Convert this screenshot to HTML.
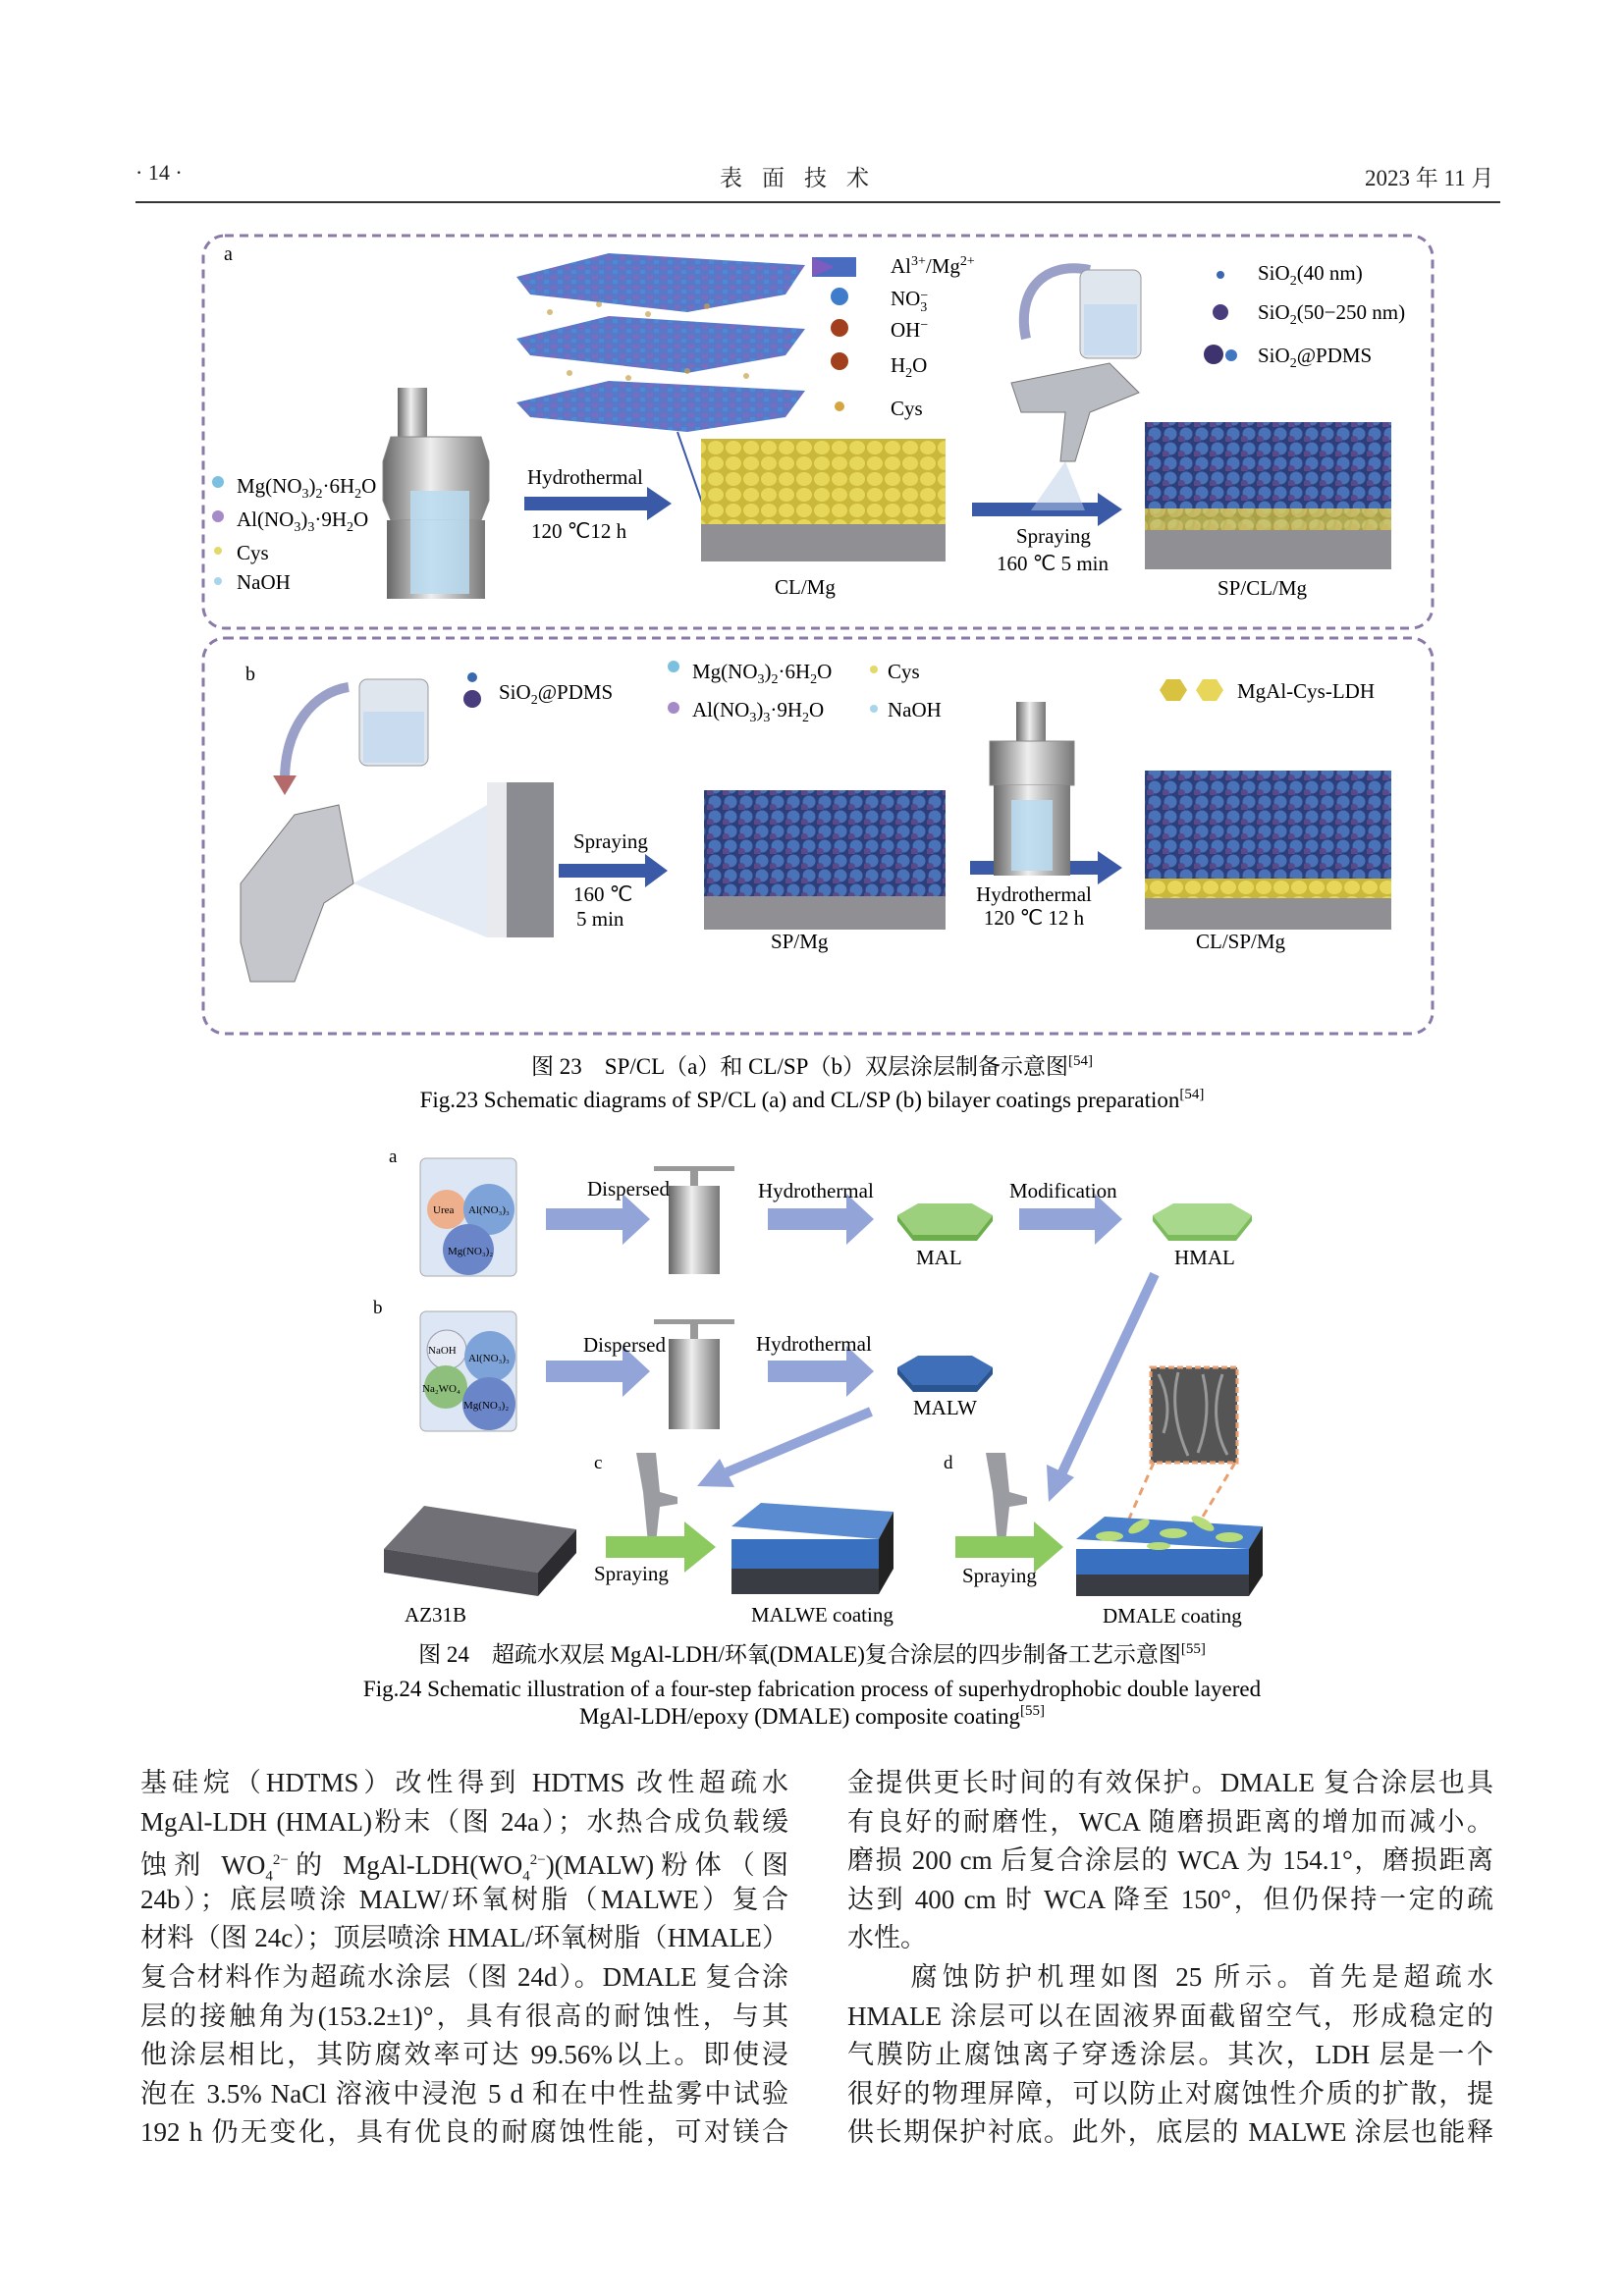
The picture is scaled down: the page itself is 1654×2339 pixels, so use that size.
<!DOCTYPE html>
<html><head><meta charset="utf-8">
<style>
body{margin:0;background:#fff;}
#pg{position:relative;width:1654px;height:2339px;overflow:hidden;background:#fff;font-family:"Liberation Serif","Noto Serif CJK SC",serif;color:#222;}
.t{position:absolute;white-space:nowrap;}
.col{position:absolute;font-size:27px;line-height:39.6px;font-family:"Liberation Serif","Noto Serif CJK SC",serif;color:#1a1a1a;}
.col div{text-align:justify;text-align-last:justify;height:39.6px;white-space:nowrap;}
svg{position:absolute;left:0;top:0;}
</style></head><body><div id="pg">
<div class="t" style="left:138px;top:163px;font-size:22px;">· 14 ·</div>
<div class="t" style="left:733px;top:163px;font-size:23px;letter-spacing:20px;">表面技术</div>
<div class="t" style="left:1390px;top:163px;font-size:23px;">2023 年 11 月</div>
<div style="position:absolute;left:138px;top:205px;width:1390px;height:2px;background:#333"></div>

<svg width="1654" height="2339" viewBox="0 0 1654 2339" font-family="Liberation Serif, serif">
<defs>
<pattern id="yel" width="18" height="16" patternUnits="userSpaceOnUse"><rect width="18" height="16" fill="#c9b83a"/><ellipse cx="9" cy="8" rx="8" ry="7" fill="#e6d65a"/></pattern>
<pattern id="blu" width="16" height="15" patternUnits="userSpaceOnUse"><rect width="16" height="15" fill="#2c3f7a"/><circle cx="8" cy="7" r="6.5" fill="#4a72b8"/><circle cx="3" cy="13" r="4" fill="#5a4a8a"/></pattern>
<pattern id="ldh" width="14" height="10" patternUnits="userSpaceOnUse"><rect width="14" height="10" fill="#5a78c8"/><rect x="1" y="1" width="6" height="4" fill="#7d6bbf"/><rect x="8" y="5" width="5" height="4" fill="#4c8ad6"/></pattern>
<linearGradient id="steel" x1="0" x2="1"><stop offset="0" stop-color="#666"/><stop offset=".45" stop-color="#eee"/><stop offset="1" stop-color="#777"/></linearGradient>
</defs>
<rect x="207" y="240" width="1252" height="400" rx="22" fill="none" stroke="#8a7aaa" stroke-width="3" stroke-dasharray="9 6"/>
<rect x="207" y="650" width="1252" height="403" rx="22" fill="none" stroke="#8a7aaa" stroke-width="3" stroke-dasharray="9 6"/>
<text x="228" y="265" font-size="20">a</text>
<text x="250" y="693" font-size="20">b</text>
<g font-size="21">
<circle cx="222" cy="491" r="6" fill="#7cc0e0"/><text x="241" y="502">Mg(NO<tspan font-size="14" dy="5">3</tspan><tspan dy="-5">)</tspan><tspan font-size="14" dy="5">2</tspan><tspan dy="-5">·6H</tspan><tspan font-size="14" dy="5">2</tspan><tspan dy="-5">O</tspan></text>
<circle cx="222" cy="526" r="6" fill="#a58ac8"/><text x="241" y="536">Al(NO<tspan font-size="14" dy="5">3</tspan><tspan dy="-5">)</tspan><tspan font-size="14" dy="5">3</tspan><tspan dy="-5">·9H</tspan><tspan font-size="14" dy="5">2</tspan><tspan dy="-5">O</tspan></text>
<circle cx="222" cy="561" r="4" fill="#e3d96a"/><text x="241" y="570">Cys</text>
<circle cx="222" cy="592" r="4" fill="#a9d5ea"/><text x="241" y="600">NaOH</text>
</g>
<g><rect x="405" y="395" width="30" height="50" fill="url(#steel)"/><polygon points="398,445 490,445 498,470 498,510 490,530 398,530 390,510 390,470" fill="url(#steel)" stroke="#888"/><rect x="394" y="530" width="100" height="80" fill="url(#steel)"/><rect x="418" y="500" width="60" height="105" fill="#b9dcf0" opacity=".85"/></g>
<g fill="#3a5aa8"><rect x="534" y="506" width="125" height="14"/><polygon points="659,496 684,513 659,530"/>
<rect x="990" y="512" width="128" height="14"/><polygon points="1118,502 1143,519 1118,536"/>
<rect x="569" y="880" width="88" height="14"/><polygon points="657,870 680,887 657,904"/>
<rect x="988" y="877" width="130" height="14"/><polygon points="1118,867 1143,884 1118,901"/></g>
<g font-size="21"><text x="537" y="493">Hydrothermal</text><text x="541" y="548">120 ℃12 h</text>
<text x="1035" y="553">Spraying</text><text x="1015" y="581">160 ℃ 5 min</text>
<text x="789" y="605">CL/Mg</text><text x="1240" y="606">SP/CL/Mg</text></g>
<g><polygon points="526,282 620,258 820,270 800,300 700,318 540,300" fill="url(#ldh)"/>
<polygon points="526,345 620,322 820,335 800,362 700,380 540,362" fill="url(#ldh)"/>
<polygon points="526,410 620,388 820,398 800,425 700,440 540,425" fill="url(#ldh)"/>
<g fill="#c9a24a" opacity=".7"><circle cx="560" cy="318" r="3"/><circle cx="610" cy="310" r="3"/><circle cx="660" cy="320" r="3"/><circle cx="720" cy="312" r="3"/><circle cx="580" cy="380" r="3"/><circle cx="640" cy="385" r="3"/><circle cx="700" cy="378" r="3"/><circle cx="760" cy="383" r="3"/></g>
<line x1="722" y1="532" x2="690" y2="440" stroke="#3a5aa8" stroke-width="2"/></g>
<g font-size="21"><rect x="827" y="262" width="45" height="20" fill="#4a6cc0"/><polygon points="827,262 850,272 827,282" fill="#7d5bbf"/><text x="907" y="278">Al<tspan font-size="14" dy="-8">3+</tspan><tspan dy="8">/Mg</tspan><tspan font-size="14" dy="-8">2+</tspan></text>
<circle cx="855" cy="302" r="9" fill="#3f7ccc"/><text x="907" y="311">NO<tspan font-size="14" dy="-6">−</tspan><tspan font-size="14" dx="-8" dy="12">3</tspan></text>
<circle cx="855" cy="334" r="9" fill="#a2401e"/><text x="907" y="343">OH<tspan font-size="14" dy="-8">−</tspan></text>
<circle cx="855" cy="368" r="9" fill="#a2401e"/><text x="907" y="379">H<tspan font-size="14" dy="5">2</tspan><tspan dy="-5">O</tspan></text>
<circle cx="855" cy="414" r="5" fill="#d4a540"/><text x="907" y="423">Cys</text></g>
<rect x="714" y="447" width="249" height="87" fill="url(#yel)"/><rect x="714" y="534" width="249" height="38" fill="#8f8f94"/>
<path d="M1110,275 C1060,265 1035,300 1045,345" stroke="#9aa0c8" stroke-width="10" fill="none"/>
<rect x="1100" y="275" width="62" height="90" rx="8" fill="#dfe6ee" stroke="#999"/><rect x="1104" y="310" width="54" height="52" fill="#c9dcef"/>
<polygon points="1030,390 1130,370 1160,400 1110,420 1095,470 1080,470 1085,420 1040,420" fill="#b9bcc2" stroke="#777"/>
<polygon points="1085,470 1050,520 1105,520" fill="#b9cde8" opacity=".5"/>
<g font-size="21"><circle cx="1243" cy="280" r="4" fill="#3a68b0"/><text x="1281" y="285">SiO<tspan font-size="14" dy="5">2</tspan><tspan dy="-5">(40 nm)</tspan></text>
<circle cx="1243" cy="318" r="8" fill="#4a3d7d"/><text x="1281" y="325">SiO<tspan font-size="14" dy="5">2</tspan><tspan dy="-5">(50−250 nm)</tspan></text>
<circle cx="1236" cy="361" r="10" fill="#3e336e"/><circle cx="1254" cy="362" r="6" fill="#4177c0"/><text x="1281" y="369">SiO<tspan font-size="14" dy="5">2</tspan><tspan dy="-5">@PDMS</tspan></text></g>
<rect x="1166" y="430" width="251" height="110" fill="url(#blu)"/><rect x="1166" y="518" width="251" height="22" fill="url(#yel)" opacity=".8"/><rect x="1166" y="540" width="251" height="40" fill="#8f8f94"/>

<path d="M355,700 C320,705 290,740 290,795" stroke="#9aa0c8" stroke-width="10" fill="none"/><polygon points="278,790 302,790 290,810" fill="#b46a6a"/>
<rect x="366" y="692" width="70" height="88" rx="8" fill="#dfe6ee" stroke="#999"/><rect x="370" y="725" width="62" height="52" fill="#c9dcef"/>
<g font-size="21"><circle cx="481" cy="690" r="5" fill="#3a68b0"/><circle cx="481" cy="712" r="9" fill="#4a3d7d"/><text x="508" y="712">SiO<tspan font-size="14" dy="5">2</tspan><tspan dy="-5">@PDMS</tspan></text></g>
<polygon points="245,900 300,830 345,820 360,900 330,920 300,1000 255,1000 245,960" fill="#c4c6cb" stroke="#777"/>
<polygon points="360,900 496,820 496,955" fill="#c9d7ea" opacity=".5"/>
<rect x="496" y="797" width="68" height="158" fill="#8a8c92"/><rect x="496" y="797" width="20" height="158" fill="#e8eaee"/>
<g font-size="21"><text x="584" y="864">Spraying</text><text x="584" y="918">160 ℃</text><text x="587" y="943">5 min</text>
<text x="785" y="966">SP/Mg</text><text x="1218" y="966">CL/SP/Mg</text>
<text x="1053" y="918" text-anchor="middle">Hydrothermal</text><text x="1053" y="942" text-anchor="middle">120 ℃ 12 h</text></g>
<rect x="717" y="805" width="246" height="108" fill="url(#blu)"/><rect x="717" y="913" width="246" height="34" fill="#8f8f94"/>
<g font-size="21"><circle cx="686" cy="679" r="6" fill="#7cc0e0"/><text x="705" y="691">Mg(NO<tspan font-size="14" dy="5">3</tspan><tspan dy="-5">)</tspan><tspan font-size="14" dy="5">2</tspan><tspan dy="-5">·6H</tspan><tspan font-size="14" dy="5">2</tspan><tspan dy="-5">O</tspan></text>
<circle cx="686" cy="721" r="6" fill="#a58ac8"/><text x="705" y="730">Al(NO<tspan font-size="14" dy="5">3</tspan><tspan dy="-5">)</tspan><tspan font-size="14" dy="5">3</tspan><tspan dy="-5">·9H</tspan><tspan font-size="14" dy="5">2</tspan><tspan dy="-5">O</tspan></text>
<circle cx="890" cy="682" r="4" fill="#e3d96a"/><text x="904" y="691">Cys</text>
<circle cx="890" cy="722" r="4" fill="#a9d5ea"/><text x="904" y="730">NaOH</text>
<polygon points="1181,703 1188,692 1202,692 1209,703 1202,714 1188,714" fill="#d9c240"/><polygon points="1218,703 1225,692 1239,692 1246,703 1239,714 1225,714" fill="#e8d65a"/>
<text x="1260" y="711">MgAl-Cys-LDH</text></g>
<g><rect x="1035" y="715" width="30" height="40" fill="url(#steel)"/><rect x="1008" y="755" width="86" height="45" fill="url(#steel)" stroke="#888"/><rect x="1012" y="800" width="78" height="92" fill="url(#steel)"/><rect x="1030" y="815" width="42" height="72" fill="#b9dcf0" opacity=".85"/></g>
<rect x="1166" y="785" width="251" height="110" fill="url(#blu)"/><rect x="1166" y="895" width="251" height="20" fill="url(#yel)"/><rect x="1166" y="915" width="251" height="32" fill="#8f8f94"/>

<text x="827" y="1094" font-size="23" text-anchor="middle" font-family="Liberation Serif, Noto Serif CJK SC, serif">图 23　SP/CL（a）和 CL/SP（b）双层涂层制备示意图<tspan font-size="15" dy="-9">[54]</tspan></text>
<text x="827" y="1128" font-size="23" text-anchor="middle">Fig.23 Schematic diagrams of SP/CL (a) and CL/SP (b) bilayer coatings preparation<tspan font-size="15" dy="-9">[54]</tspan></text>

<g font-size="21">
<text x="396" y="1184" font-size="19">a</text><text x="380" y="1338" font-size="19">b</text>
<rect x="428" y="1180" width="98" height="120" rx="6" fill="#dce6f4" stroke="#aaa"/>
<circle cx="455" cy="1232" r="20" fill="#eeb08c"/><circle cx="498" cy="1232" r="26" fill="#7ea3d8"/><circle cx="477" cy="1273" r="26" fill="#6b86c8"/>
<text x="441" y="1236" font-size="11">Urea</text><text x="477" y="1236" font-size="11">Al(NO₃)₃</text><text x="456" y="1278" font-size="11">Mg(NO₃)₂</text>
<rect x="428" y="1336" width="98" height="122" rx="6" fill="#dce6f4" stroke="#aaa"/>
<circle cx="455" cy="1375" r="20" fill="#e6eaf4" stroke="#99a"/><circle cx="499" cy="1382" r="26" fill="#7ea3d8"/><circle cx="454" cy="1413" r="22" fill="#8fbf7c"/><circle cx="498" cy="1430" r="27" fill="#6b86c8"/>
<text x="436" y="1379" font-size="11">NaOH</text><text x="477" y="1387" font-size="11">Al(NO₃)₃</text><text x="430" y="1418" font-size="11">Na₂WO₄</text><text x="472" y="1435" font-size="11">Mg(NO₃)₂</text>
<g><rect x="666" y="1188" width="82" height="5" fill="#999"/><rect x="703" y="1188" width="8" height="22" fill="#999"/><rect x="681" y="1208" width="52" height="90" fill="url(#steel)"/></g>
<g><rect x="666" y="1344" width="82" height="5" fill="#999"/><rect x="703" y="1344" width="8" height="22" fill="#999"/><rect x="681" y="1364" width="52" height="92" fill="url(#steel)"/></g>
<g fill="#93a4d8"><rect x="556" y="1231" width="78" height="22"/><polygon points="634,1216 662,1242 634,1268"/>
<rect x="782" y="1231" width="80" height="22"/><polygon points="862,1216 890,1242 862,1268"/>
<rect x="1038" y="1231" width="77" height="22"/><polygon points="1115,1216 1143,1242 1115,1268"/>
<rect x="556" y="1386" width="78" height="22"/><polygon points="634,1371 662,1397 634,1423"/>
<rect x="782" y="1386" width="80" height="22"/><polygon points="862,1371 890,1397 862,1423"/></g>
<line x1="1176" y1="1298" x2="1082" y2="1500" stroke="#93a4d8" stroke-width="10"/><polygon points="1066,1492 1094,1505 1068,1530" fill="#93a4d8"/>
<line x1="887" y1="1438" x2="740" y2="1500" stroke="#93a4d8" stroke-width="10"/><polygon points="733,1486 748,1515 710,1514" fill="#93a4d8"/>
<text x="598" y="1218">Dispersed</text><text x="772" y="1220">Hydrothermal</text><text x="1028" y="1220">Modification</text>
<text x="594" y="1377">Dispersed</text><text x="770" y="1376">Hydrothermal</text>
<polygon points="914,1238 935,1226 990,1226 1011,1238 995,1258 930,1258" fill="#9cd07c"/><polygon points="930,1258 995,1258 1011,1238 1011,1244 995,1264 930,1264 914,1244 914,1238" fill="#6cae4c"/>
<polygon points="1174,1238 1195,1226 1254,1226 1275,1238 1259,1258 1190,1258" fill="#a8d88c"/><polygon points="1190,1258 1259,1258 1275,1238 1275,1244 1259,1264 1190,1264 1174,1244 1174,1238" fill="#7cbc5c"/>
<polygon points="914,1393 935,1381 990,1381 1011,1393 995,1411 930,1411" fill="#3f6fb8"/><polygon points="930,1411 995,1411 1011,1393 1011,1400 995,1418 930,1418 914,1400 914,1393" fill="#2a5590"/>
<text x="933" y="1288">MAL</text><text x="1196" y="1288">HMAL</text><text x="930" y="1441">MALW</text>
<text x="605" y="1496" font-size="19">c</text><text x="961" y="1496" font-size="19">d</text>
<rect x="1172" y="1393" width="88" height="97" fill="#555" stroke="#e8a070" stroke-width="3" stroke-dasharray="6 3"/>
<path d="M1180,1400 q15,30 5,60 M1200,1398 q-10,40 10,85 M1225,1400 q10,40 -5,80 M1245,1400 q-15,45 5,82" stroke="#999" stroke-width="3" fill="none"/>
<line x1="1175" y1="1490" x2="1140" y2="1570" stroke="#e8a070" stroke-width="3" stroke-dasharray="8 6"/><line x1="1258" y1="1490" x2="1210" y2="1570" stroke="#e8a070" stroke-width="3" stroke-dasharray="8 6"/>
<g fill="#9a9ca2"><polygon points="648,1480 668,1480 672,1520 690,1525 690,1532 672,1535 668,1572 660,1572 655,1520"/><polygon points="1004,1480 1024,1480 1028,1520 1046,1525 1046,1532 1028,1535 1024,1572 1016,1572 1011,1520"/></g>
<polygon points="391,1578 432,1534 587,1558 548,1602" fill="#707076"/><polygon points="391,1578 548,1602 548,1626 391,1602" fill="#505056"/><polygon points="548,1602 587,1558 587,1582 548,1626" fill="#2c2c30"/>
<g fill="#8cc95e"><rect x="617" y="1565" width="80" height="22"/><polygon points="697,1550 729,1576 697,1602"/>
<rect x="973" y="1565" width="80" height="22"/><polygon points="1053,1550 1083,1576 1053,1602"/></g>
<text x="605" y="1610">Spraying</text><text x="980" y="1612">Spraying</text>
<polygon points="745,1555 775,1531 910,1540 895,1568" fill="#5a8ad0"/><rect x="745" y="1568" width="150" height="30" fill="#3a70c0"/><rect x="745" y="1598" width="150" height="26" fill="#3a3c44"/><polygon points="895,1568 910,1540 910,1598 895,1624" fill="#222"/>
<polygon points="1096,1568 1125,1545 1286,1555 1272,1578" fill="#4a80cc"/><rect x="1096" y="1578" width="176" height="26" fill="#3a70c0"/><rect x="1096" y="1604" width="176" height="22" fill="#3a3c44"/><polygon points="1272,1578 1286,1555 1286,1605 1272,1626" fill="#222"/>
<g fill="#b8dc7a"><ellipse cx="1130" cy="1565" rx="14" ry="5"/><ellipse cx="1160" cy="1555" rx="12" ry="5" transform="rotate(-30 1160 1555)"/><ellipse cx="1195" cy="1562" rx="14" ry="5"/><ellipse cx="1225" cy="1552" rx="13" ry="5" transform="rotate(30 1225 1552)"/><ellipse cx="1252" cy="1566" rx="14" ry="5"/><ellipse cx="1180" cy="1575" rx="12" ry="4"/></g>
<text x="412" y="1652">AZ31B</text><text x="765" y="1652">MALWE coating</text><text x="1123" y="1653">DMALE coating</text>
</g>
<text x="827" y="1693" font-size="23" text-anchor="middle" font-family="Liberation Serif, Noto Serif CJK SC, serif">图 24　超疏水双层 MgAl-LDH/环氧(DMALE)复合涂层的四步制备工艺示意图<tspan font-size="15" dy="-9">[55]</tspan></text>
<text x="827" y="1728" font-size="23" text-anchor="middle">Fig.24 Schematic illustration of a four-step fabrication process of superhydrophobic double layered</text>
<text x="827" y="1756" font-size="23" text-anchor="middle">MgAl-LDH/epoxy (DMALE) composite coating<tspan font-size="15" dy="-9">[55]</tspan></text>
</svg>

<div class="col" style="left:143px;top:1797px;width:660px;">
<div>基硅烷（HDTMS）改性得到 HDTMS 改性超疏水</div>
<div>MgAl-LDH (HMAL)粉末（图 24a）；水热合成负载缓</div>
<div>蚀剂 WO<sub style="font-size:15px">4</sub><sup style="font-size:15px">2−</sup>的 MgAl-LDH(WO<sub style="font-size:15px">4</sub><sup style="font-size:15px">2−</sup>)(MALW)粉体（图</div>
<div>24b）；底层喷涂 MALW/环氧树脂（MALWE）复合</div>
<div>材料（图 24c）；顶层喷涂 HMAL/环氧树脂（HMALE）</div>
<div>复合材料作为超疏水涂层（图 24d）。DMALE 复合涂</div>
<div>层的接触角为(153.2±1)°，具有很高的耐蚀性，与其</div>
<div>他涂层相比，其防腐效率可达 99.56%以上。即使浸</div>
<div>泡在 3.5% NaCl 溶液中浸泡 5 d 和在中性盐雾中试验</div>
<div>192 h 仍无变化，具有优良的耐腐蚀性能，可对镁合</div>
</div>
<div class="col" style="left:863px;top:1797px;width:658px;">
<div>金提供更长时间的有效保护。DMALE 复合涂层也具</div>
<div>有良好的耐磨性，WCA 随磨损距离的增加而减小。</div>
<div>磨损 200 cm 后复合涂层的 WCA 为 154.1°，磨损距离</div>
<div>达到 400 cm 时 WCA 降至 150°，但仍保持一定的疏</div>
<div style="text-align-last:left">水性。</div>
<div>　　腐蚀防护机理如图 25 所示。首先是超疏水</div>
<div>HMALE 涂层可以在固液界面截留空气，形成稳定的</div>
<div>气膜防止腐蚀离子穿透涂层。其次，LDH 层是一个</div>
<div>很好的物理屏障，可以防止对腐蚀性介质的扩散，提</div>
<div>供长期保护衬底。此外，底层的 MALWE 涂层也能释</div>
</div>
</div></body></html>
